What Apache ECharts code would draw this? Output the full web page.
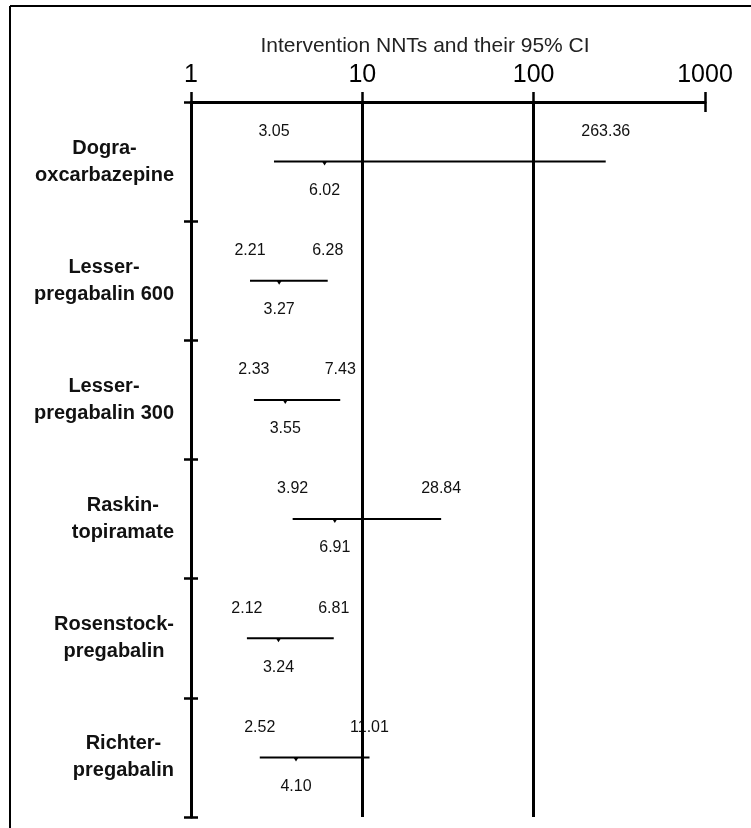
<!DOCTYPE html>
<html>
<head>
<meta charset="utf-8">
<title>Intervention NNTs and their 95% CI</title>
<script src="https://cdn.jsdelivr.net/npm/echarts@6/dist/echarts.min.js"></script>
<style>
  html, body { margin: 0; padding: 0; background: #fff; }
  #chart { width: 751px; height: 828px; }
</style>
</head>
<body>
<div id="chart"></div>
<script>
// Studies, one row each, top to bottom
const categories = [
  'Dogra-\noxcarbazepine',
  'Lesser-\npregabalin 600',
  'Lesser-\npregabalin 300',
  'Raskin-\ntopiramate',
  'Rosenstock-\npregabalin',
  'Richter-\npregabalin'
];
// Number needed to treat and its 95% confidence interval
const lowerCI = [3.05, 2.21, 2.33, 3.92, 2.12, 2.52];
const nnt     = [6.02, 3.27, 3.55, 6.91, 3.24, 4.10];
const upperCI = [263.36, 6.28, 7.43, 28.84, 6.81, 11.01];
// Log axis tick values and the decades marked by full-height lines
const tickValues = [1, 10, 100, 1000];
const refLines = [10, 100];

const FONT = '"Liberation Sans", Arial, sans-serif';
const rows = categories.map((c, i) => [i, lowerCI[i], nnt[i], upperCI[i]]);
const fmt = v => v.toFixed(2);

const chart = echarts.init(document.getElementById('chart'));

chart.setOption({
  backgroundColor: '#fff',
  animation: false,
  title: {
    text: 'Intervention NNTs and their 95% CI',
    left: 420,
    top: 31,
    textAlign: 'center',
    textStyle: { fontFamily: FONT, fontSize: 21, fontWeight: 'normal', color: '#222' }
  },
  graphic: [
    { type: 'line', shape: { x1: 10, y1: 6, x2: 751, y2: 6 }, style: { stroke: '#000', lineWidth: 2 } },
    { type: 'line', shape: { x1: 10, y1: 6, x2: 10, y2: 828 }, style: { stroke: '#000', lineWidth: 2 } }
  ],
  grid: { left: 191, right: 46, top: 102, bottom: 11, containLabel: false },
  xAxis: [
    {
      type: 'log',
      logBase: 10,
      min: tickValues[0],
      max: tickValues[tickValues.length - 1],
      position: 'top',
      axisLine: { show: true, lineStyle: { color: '#000', width: 3 } },
      axisTick: { show: true, length: 10, lineStyle: { color: '#000', width: 2.5 } },
      axisLabel: {
        show: true, margin: 14, color: '#000', fontFamily: FONT, fontSize: 25,
        formatter: v => String(Math.round(v))
      },
      splitLine: { show: false }
    },
    {
      type: 'log',
      logBase: 10,
      min: tickValues[0],
      max: tickValues[tickValues.length - 1],
      position: 'top',
      axisLine: { show: false },
      axisTick: { show: true, inside: true, length: 10, lineStyle: { color: '#000', width: 2.5 } },
      axisLabel: { show: false },
      splitLine: { show: false }
    }
  ],
  yAxis: [
    {
      type: 'category',
      data: categories,
      inverse: true,
      axisLine: { show: true, lineStyle: { color: '#000', width: 3 } },
      axisTick: { show: true, length: 7, lineStyle: { color: '#000', width: 2.5 } },
      axisLabel: {
        margin: 17,
        align: 'right',
        formatter: v => v.split('\n').map(s => '{c|' + s + '}').join('\n'),
        rich: {
          c: { align: 'center', fontFamily: FONT, fontSize: 20, fontWeight: 'bold', color: '#111', lineHeight: 27 }
        }
      },
      splitLine: { show: false }
    },
    {
      type: 'category',
      data: categories,
      inverse: true,
      position: 'left',
      axisLine: { show: false },
      axisTick: { show: true, inside: true, length: 7, lineStyle: { color: '#000', width: 2.5 } },
      axisLabel: { show: false },
      splitLine: { show: false }
    }
  ],
  series: [
    {
      type: 'custom',
      xAxisIndex: 0,
      yAxisIndex: 0,
      z: 2,
      encode: { x: [1, 2, 3], y: 0 },
      data: rows,
      renderItem: (params, api) => {
        const row = api.value(0);
        const lo = api.value(1), est = api.value(2), hi = api.value(3);
        const pLo = api.coord([lo, row]);
        const pEst = api.coord([est, row]);
        const pHi = api.coord([hi, row]);
        const txt = (x, y, s) => ({
          type: 'text', x: x, y: y,
          style: { text: s, fill: '#111', font: '16px ' + FONT, align: 'center', verticalAlign: 'middle' }
        });
        return {
          type: 'group',
          children: [
            { type: 'line', shape: { x1: pLo[0], y1: pLo[1], x2: pHi[0], y2: pHi[1] },
              style: { stroke: '#000', lineWidth: 2 } },
            { type: 'polygon', shape: { points: [[pEst[0] - 2.5, pEst[1]], [pEst[0] + 2.5, pEst[1]], [pEst[0], pEst[1] + 4]] },
              style: { fill: '#000' } },
            txt(pLo[0], pLo[1] - 30, fmt(lo)),
            txt(pHi[0], pHi[1] - 30, fmt(hi)),
            txt(pEst[0], pEst[1] + 29, fmt(est))
          ]
        };
      }
    },
    {
      type: 'line',
      xAxisIndex: 0,
      yAxisIndex: 0,
      z: 5,
      data: [],
      markLine: {
        silent: true,
        symbol: 'none',
        label: { show: false },
        lineStyle: { color: '#000', width: 3, type: 'solid' },
        data: refLines.map(v => ({ xAxis: v }))
      }
    }
  ]
});
</script>
</body>
</html>
